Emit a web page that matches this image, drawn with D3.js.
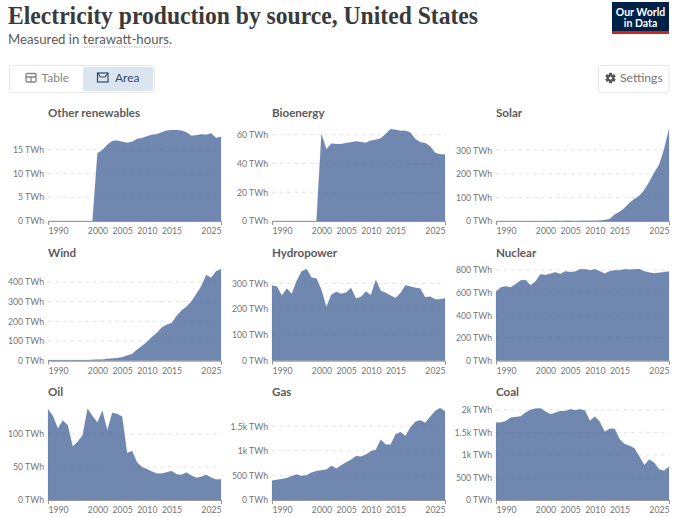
<!DOCTYPE html>
<html><head><meta charset="utf-8">
<script src="https://cdn.jsdelivr.net/npm/d3@7"></script>
<style>
html,body{margin:0;padding:0;background:#fff;overflow:hidden}
text{font-family:Lato,"Noto Sans",sans-serif}
</style></head><body><svg id="c" width="680" height="517"></svg>
<script>
const years = d3.range(1990, 2026);
const xTicks = [1990, 2000, 2005, 2010, 2015, 2025];
const otherRenewables = [0,0,0,0,0,0,0,0,0,0,14.2,14.9,16,16.8,16.9,16.6,16.4,16.6,17.2,17.4,17.8,18.1,18.2,18.6,19,19.1,19.1,19,18.6,17.9,18,18.2,18.1,18.4,17.4,17.7];
const bioenergy = [0,0,0,0,0,0,0,0,0,0,60.5,50,54,53.5,53.5,54.2,54.8,55.5,55,54.5,56,56.5,57.5,60.5,64,63.5,62.7,62.7,61.5,57,54.8,54.3,52,47.5,46.5,46.2];
const solar = [0.4,0.4,0.4,0.4,0.4,0.5,0.5,0.5,0.5,0.5,0.5,0.5,0.6,0.5,0.6,0.6,0.5,0.6,0.9,1,1.3,1.8,4.3,9,28,39,55,77,93,107,131,165,205,238,303,390];
const wind = [3,3,3,3,3.4,3.2,3.2,3.3,3,4.5,5.6,6.7,10,11,14,18,26,34,55,74,95,120,141,168,182,191,227,254,273,300,338,378,434,421,453,465];
const hydropower = [292,288,253,280,260,310,347,356,323,319,275,208,256,268,260,265,282,241,248,269,255,313,272,264,253,243,263,293,288,283,280,246,249,239,239,242];
const nuclear = [611,649,656,647,676,710,712,665,700,763,756,767,780,764,789,782,787,806,806,799,807,790,769,789,797,797,806,805,807,809,790,778,772,775,782,786];
const oil = [137,127,108,120,113,81,88,98,138,127,117,135,105,132,130,126,71,74,57,50,47,43,40,40,42,44,39,38,41.5,37,33.5,35,38,34,31,31.5];
const gas = [395,410,428,445,490,520,490,505,560,590,605,622,694,640,705,765,820,895,885,925,990,1020,1230,1130,1130,1335,1380,1300,1480,1590,1620,1570,1690,1810,1870,1805];
const coal = [1720,1720,1750,1830,1840,1855,1940,2000,2030,2035,1965,1900,1935,1975,1975,2010,1990,2015,1985,1755,1850,1735,1515,1580,1580,1350,1240,1205,1150,965,775,900,830,680,650,735];

const names = ["Other renewables","Bioenergy","Solar","Wind","Hydropower","Nuclear","Oil","Gas","Coal"];
const seriesList = [otherRenewables,bioenergy,solar,wind,hydropower,nuclear,oil,gas,coal];
const yMaxes = [19.3,64,390,465,356,809,139,1870,2040];
const yTicks = [[0,5,10,15],[0,20,40,60],[0,100,200,300],[0,100,200,300,400],[0,100,200,300],[0,200,400,600,800],[0,50,100],[0,500,1000,1500],[0,500,1000,1500,2000]];

const svg = d3.select("#c");
const colX = [48,272,496], plotW = 173;
const rowBase = [221,360.7,500], rowTop = [129,269,408];
const gridCol = "#e2e2e2", textCol = "#747474", titleCol = "#5b5b5b";
const fmt = v => (v >= 1000 ? (v/1000) + "k" : v) + " TWh";

names.forEach((name,i) => {
  const cx = colX[i%3], r = Math.floor(i/3), vals = seriesList[i];
  const x = d3.scaleLinear().domain([1990,2025]).range([cx,cx+plotW]);
  const y = d3.scaleLinear().domain([0,yMaxes[i]]).range([rowBase[r],rowTop[r]]);
  const g = svg.append("g");
  g.append("text").attr("x",cx).attr("y",rowTop[r]-12).attr("font-size",11.6).attr("font-weight",700)
    .attr("fill",titleCol).text(name);
  g.selectAll(".grid").data(yTicks[i].filter(t=>t>0)).join("line")
    .attr("x1",cx).attr("x2",cx+plotW).attr("y1",d=>y(d)).attr("y2",d=>y(d))
    .attr("stroke",gridCol).attr("stroke-dasharray","3.5,4");
  const area = d3.area().x((d,k)=>x(years[k])).y0(y(0)).y1(d=>y(d));
  g.append("path").attr("d",area(vals)).attr("fill","#4c6a9c").attr("fill-opacity",0.8)
    .attr("stroke","#4c6a9c").attr("stroke-opacity",0.25).attr("stroke-width",0.5);
  const ya = g.append("g").attr("transform",`translate(${cx},0)`)
    .call(d3.axisLeft(y).tickValues(yTicks[i]).tickFormat(fmt).tickSize(0).tickPadding(4));
  ya.select(".domain").remove();
  ya.selectAll("text").attr("font-size",8.7).attr("fill",textCol).style("font-family","Lato");
  const xa = g.append("g").attr("transform",`translate(0,${rowBase[r]})`)
    .call(d3.axisBottom(x).tickValues(xTicks).tickFormat(d3.format("d")).tickSize(4).tickPadding(3));
  xa.select(".domain").attr("d",`M${cx},0.5H${cx+plotW}`).attr("stroke","#999");
  xa.selectAll(".tick line").attr("stroke",d=>(d===1990||d===2025)?"#999":"none");
  xa.selectAll("text").attr("font-size",8.7).attr("fill",textCol).style("font-family","Lato")
    .attr("text-anchor",d=>d===1990?"start":d===2025?"end":"middle");
});

// Header
svg.append("text").attr("x",8).attr("y",24).attr("font-size",25).attr("font-weight",700)
  .attr("fill","#3a3a3a").attr("textLength",470).attr("lengthAdjust","spacingAndGlyphs")
  .style("font-family","'Liberation Serif',serif").text("Electricity production by source, United States");
const sub = svg.append("text").attr("x",8).attr("y",44).attr("font-size",13.2).attr("fill","#5b5b5b");
sub.append("tspan").text("Measured in ");
sub.append("tspan").text("terawatt-hours");
sub.append("tspan").text(".");
svg.append("line").attr("x1",84).attr("x2",171).attr("y1",47).attr("y2",47).attr("stroke","#999").attr("stroke-dasharray","1,1.5");

// Logo
svg.append("rect").attr("x",612).attr("y",2).attr("width",57).attr("height",32).attr("fill","#002147");
svg.append("rect").attr("x",612).attr("y",31).attr("width",57).attr("height",3).attr("fill","#ce261e");
[["Our World",15.5],["in Data",26.5]].forEach(([t,yy]) => svg.append("text").attr("x",640.5).attr("y",yy)
  .attr("text-anchor","middle").attr("font-size",10.5).attr("font-weight",700).attr("fill","#fff").text(t));

// Controls
svg.append("rect").attr("x",9.5).attr("y",65.5).attr("width",145).attr("height",27).attr("rx",3).attr("fill","#fff").attr("stroke","#e7e7e7");
svg.append("rect").attr("x",83).attr("y",67).attr("width",70).attr("height",24).attr("rx",2).attr("fill","#dbe5f0");
svg.append("text").attr("x",41.5).attr("y",82).attr("font-size",12).attr("fill","#858585").text("Table");
svg.append("text").attr("x",115).attr("y",82).attr("font-size",12).attr("fill","#2f4a6d").text("Area");
const ti = svg.append("g").attr("fill","none").attr("stroke","#858585").attr("stroke-width",1.3);
ti.append("rect").attr("x",26).attr("y",73.5).attr("width",10).attr("height",8.5).attr("rx",1);
ti.append("path").attr("d","M26,77H36M31,77V82");
const ai = svg.append("g").attr("fill","none").attr("stroke","#2f4a6d").attr("stroke-width",1.2);
ai.append("rect").attr("x",97.5).attr("y",73).attr("width",10.5).attr("height",9);
ai.append("path").attr("d","M97.5,73L100.5,77H105L108,73");

svg.append("rect").attr("x",598.5).attr("y",65.5).attr("width",70.5).attr("height",27).attr("rx",3).attr("fill","#fff").attr("stroke","#e7e7e7");
svg.append("text").attr("x",620).attr("y",82).attr("font-size",12.2).attr("fill","#747474").text("Settings");
const gear = svg.append("g").attr("transform","translate(610.5,78)");
d3.range(3).forEach(k => gear.append("rect").attr("x",-1.5).attr("y",-5.2).attr("width",3).attr("height",10.4)
  .attr("fill","#555").attr("transform",`rotate(${k*60})`));
gear.append("circle").attr("r",3.8).attr("fill","#555");
gear.append("circle").attr("r",1.5).attr("fill","#fff");
</script></body></html>
